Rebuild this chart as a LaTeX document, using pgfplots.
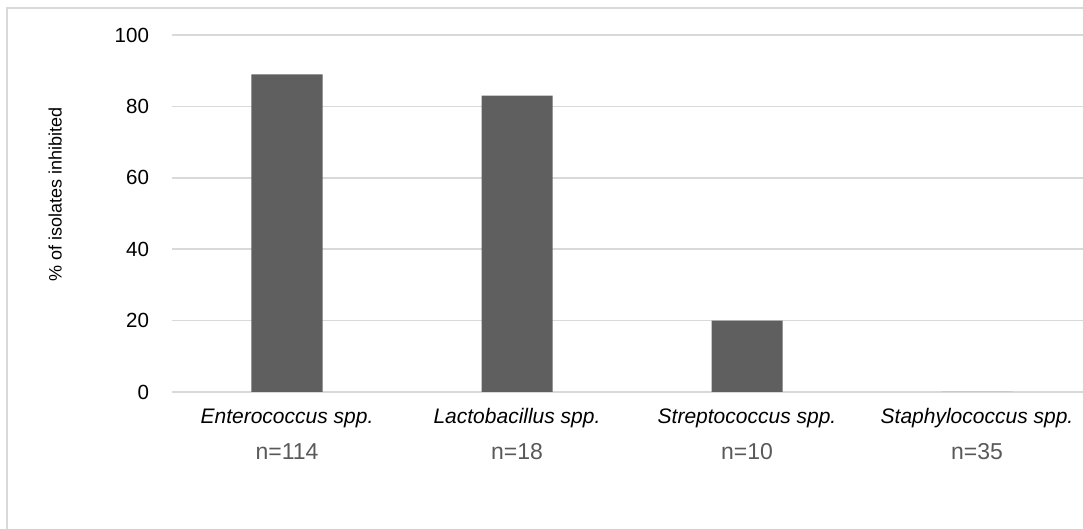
\documentclass[border=0pt]{standalone}
\usepackage{fontspec}
\setmainfont{Liberation Sans}
\usepackage{pgfplots}
\pgfplotsset{compat=1.18}
\definecolor{barc}{HTML}{5F5F5F}
\definecolor{gridc}{HTML}{D9D9D9}
\definecolor{ngray}{HTML}{595959}
\newcommand{\catlab}[2]{\textit{\vphantom{ELbhl}#1}\\{\fontsize{11.5}{17.75}\selectfont\color{ngray}#2}}
\begin{document}
\begin{tikzpicture}
\useasboundingbox (0,0) rectangle (541.5pt,264.5pt);
\draw[gridc, line width=0.75pt] (3.5pt,-10pt) rectangle (560pt,260.5pt);
\begin{axis}[
  at={(86pt,68.5pt)}, anchor=south west, scale only axis,
  width=460pt, height=178.5pt,
  xmin=-0.5, xmax=3.5, ymin=0, ymax=100,
  axis line style={draw=none},
  tick style={draw=none},
  ymajorgrids,
  major grid style={gridc, line width=0.75pt},
  xtick={0,1,2,3},
  ytick={0,20,40,60,80,100},
  /pgf/number format/assume math mode=true,
  yticklabel style={font=\fontsize{10.25}{12}\selectfont, xshift=-8pt},
  xticklabel style={align=center, font=\fontsize{10.5}{17.75}\selectfont, yshift=-4.8pt},
  xticklabels={
    {\catlab{Enterococcus spp.}{n=114}},
    {\catlab{Lactobacillus spp.}{n=18}},
    {\catlab{Streptococcus spp.}{n=10}},
    {\catlab{Staphylococcus spp.}{n=35}}
  },
  ylabel={\% of isolates inhibited},
  every axis y label/.style={at={(axis description cs:-0.127,0.552)}, rotate=90, anchor=center, font=\fontsize{9}{11}\selectfont},
]
\addplot[ybar, bar width=35.5pt, fill=barc, draw=none] coordinates {(0,89) (1,83) (2,20) (3,0)};
\end{axis}
\end{tikzpicture}
\end{document}
